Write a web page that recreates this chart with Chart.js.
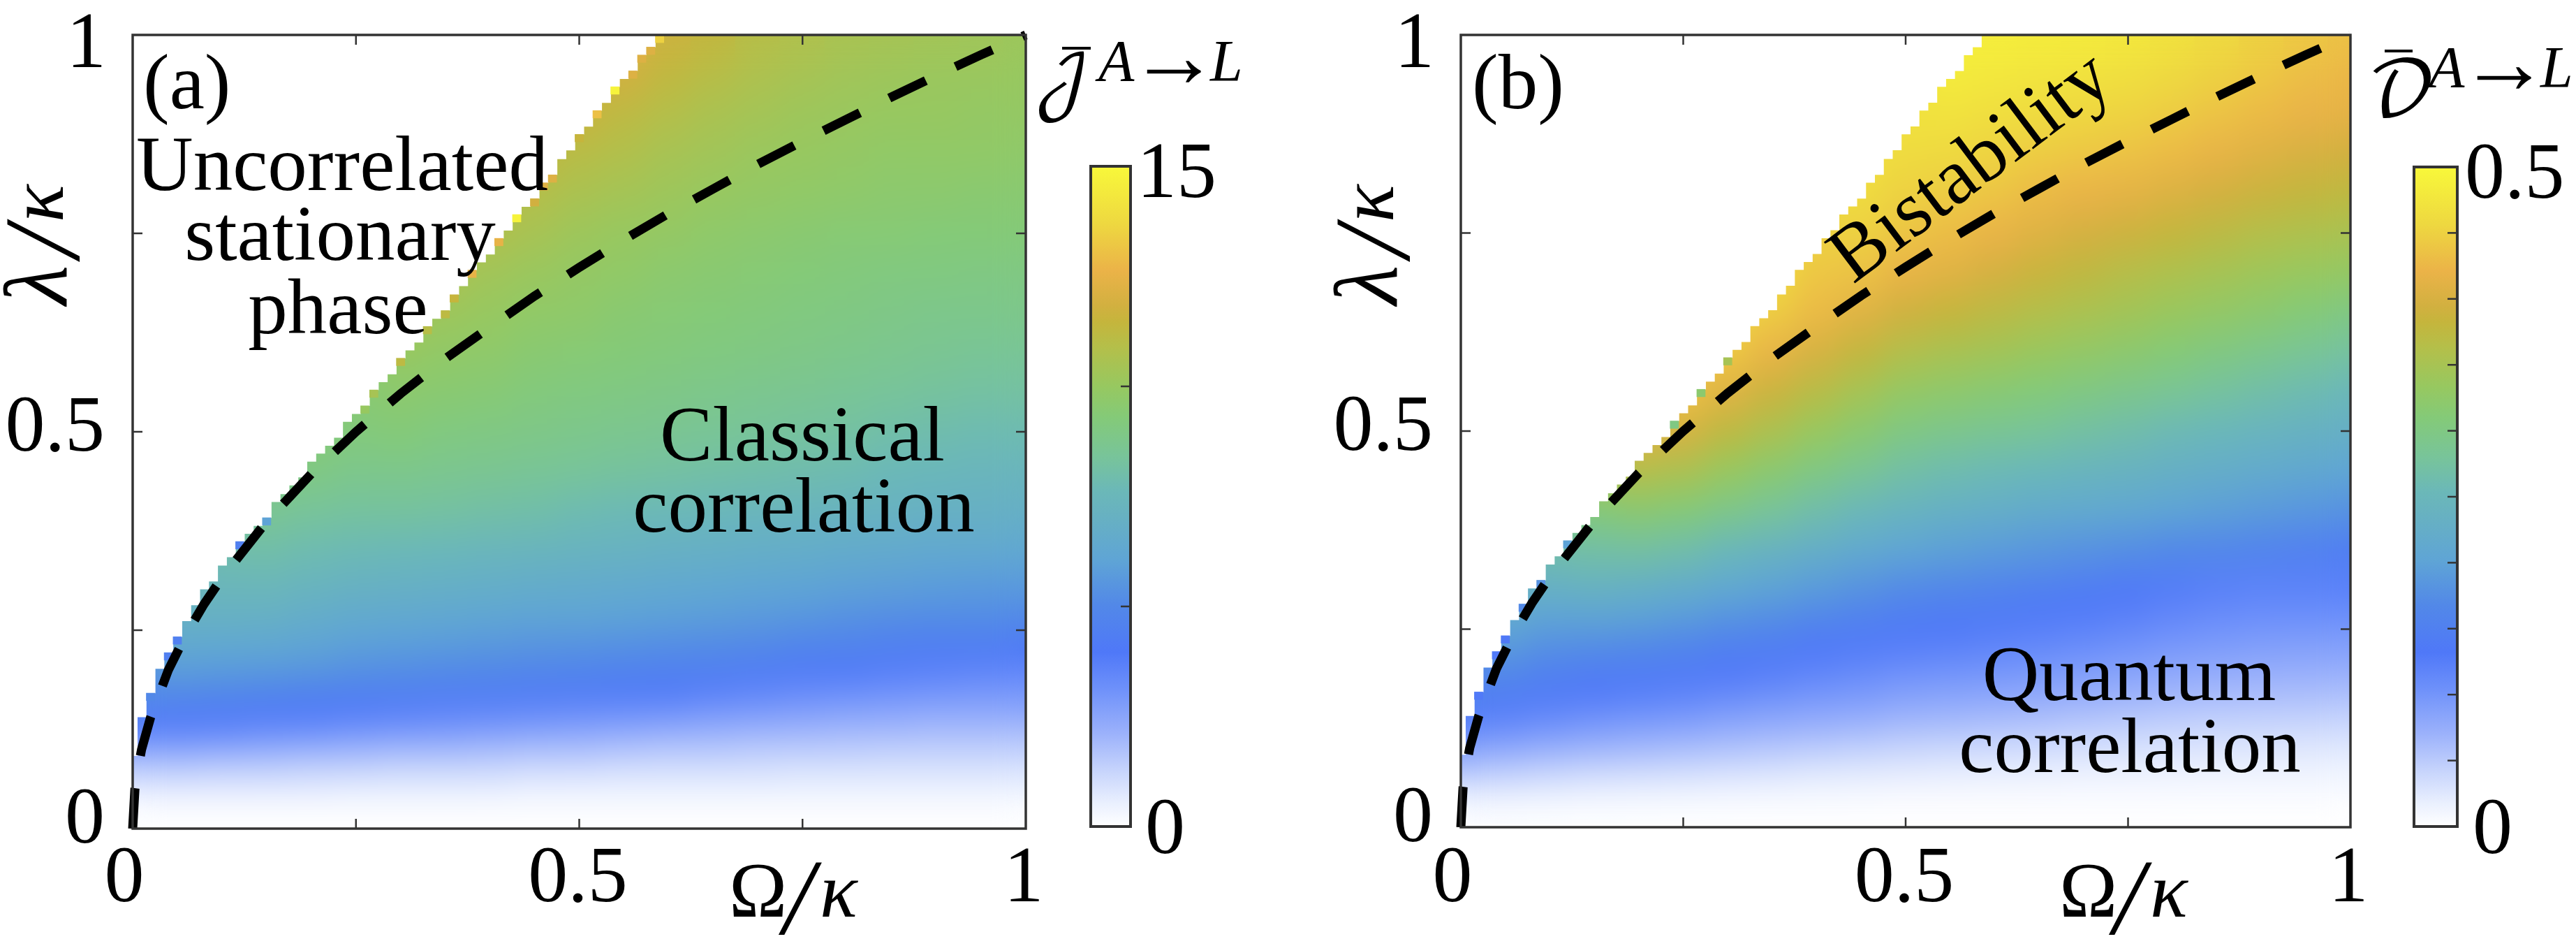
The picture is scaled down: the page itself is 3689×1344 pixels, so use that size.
<!DOCTYPE html>
<html>
<head>
<meta charset="utf-8">
<title>Phase diagrams</title>
<script src="https://cdn.jsdelivr.net/npm/chart.js@4"></script>
<style>
html, body { margin: 0; padding: 0; background: #fff; }
canvas { position: absolute; left: 0; top: 0; }
</style>
</head>
<body>
<canvas id="heatA" width="3689" height="1344"></canvas>
<canvas id="barA" width="3689" height="1344"></canvas>
<canvas id="heatB" width="3689" height="1344"></canvas>
<canvas id="barB" width="3689" height="1344"></canvas>
<script>
/* values */
var omegaColumns = [0, 0.05, 0.1, 0.15, 0.2, 0.25, 0.3, 0.35, 0.4, 0.45, 0.5, 0.55, 0.6, 0.65, 0.7, 0.75, 0.8, 0.85, 0.9, 0.95, 1];
var lambdaRows = [0, 0.025, 0.05, 0.075, 0.1, 0.125, 0.15, 0.175, 0.2, 0.225, 0.25, 0.275, 0.3, 0.35, 0.4, 0.45, 0.5, 0.55, 0.6, 0.65, 0.7, 0.75, 0.8, 0.85, 0.9, 0.95, 1];

// J in tenths, one list per omega column, bottom to top
var jColumns = [
    [0,1,7,15,25,37,44,53],
    [0,1,7,15,25,37,43,52,58,63,67,71,74],
    [0,1,7,14,24,36,42,51,57,62,67,71,74,79,85],
    [0,1,7,14,23,34,41,50,56,62,66,71,74,80,86,91],
    [0,1,7,13,22,33,40,48,55,60,64,68,72,78,84,90,94],
    [0,1,6,13,21,31,39,47,53,58,62,66,70,77,83,88,92,95],
    [0,1,6,12,20,30,38,46,52,57,61,65,69,76,83,88,93,96,100,105],
    [0,1,6,12,20,29,37,45,51,56,60,64,68,75,82,87,91,95,98,102,107],
    [0,1,6,12,19,28,36,44,50,55,59,63,67,74,81,86,90,94,97,100,103,108,112],
    [0,1,5,11,18,27,35,43,49,54,58,62,66,73,80,85,89,92,95,98,101,105,109,114],
    [0,1,5,11,18,26,34,42,48,53,58,62,65,72,78,84,88,91,94,97,99,102,106,110,116],
    [0,1,5,10,17,25,33,41,47,52,57,61,64,71,77,83,87,90,93,95,98,100,104,108,112,118,122],
    [0,1,5,10,16,24,32,40,46,51,56,60,63,70,76,82,86,89,92,94,96,99,102,105,109,113,117],
    [0,1,5,10,16,23,30,38,45,50,55,59,62,69,75,81,85,88,91,93,95,97,100,103,106,110,114],
    [0,1,5,10,15,22,29,36,43,49,54,58,61,68,74,80,84,87,90,92,94,96,99,101,104,107,110],
    [0,1,5,9,15,21,28,34,41,47,52,57,60,67,73,79,83,86,89,91,93,95,98,100,102,105,108],
    [0,1,5,9,15,20,27,33,40,46,51,55,59,66,72,78,82,85,88,90,92,94,97,99,101,103,106],
    [0,1,5,9,14,20,26,32,38,44,49,54,58,65,71,76,80,84,87,89,91,94,96,98,100,102,105],
    [0,1,5,9,14,19,25,31,37,43,48,53,57,64,70,75,79,83,86,88,91,93,96,98,100,101,104],
    [0,1,5,9,14,19,25,30,36,42,48,53,56,64,70,74,78,82,85,88,90,93,95,98,99,101,103],
    [0,1,5,9,14,19,25,30,35,41,47,52,56,63,69,74,78,82,85,88,90,93,95,97,99,100,102]
];

// D in thousandths, same layout
var dColumns = [
    [0,8,30,60,88,115,137,165],
    [0,7,28,53,82,107,128,150,170,187,205,220,235],
    [0,6,25,48,75,100,122,140,155,175,192,210,230,265,300],
    [0,5,22,44,70,93,115,132,150,170,192,212,235,270,310,355],
    [0,5,20,42,66,88,110,128,145,165,187,208,228,272,318,365,410],
    [0,4,19,40,62,84,105,124,140,158,178,200,220,265,310,355,400,435],
    [0,4,17,37,58,78,98,118,132,150,170,190,210,250,295,335,375,410,440,462],
    [0,3,15,34,54,74,92,112,127,143,162,182,200,238,280,318,355,388,420,445,462],
    [0,3,13,30,50,70,87,105,120,132,152,172,190,226,265,300,335,368,400,428,440,450,465],
    [0,3,12,28,46,66,84,100,114,128,144,162,180,215,252,285,318,348,380,410,435,450,460,468],
    [0,2,10,26,42,60,78,93,108,124,137,153,170,205,240,270,300,330,362,392,420,438,450,460,470],
    [0,2,10,24,40,58,75,90,105,120,132,148,163,198,232,262,292,322,352,382,410,430,445,458,470,482,488],
    [0,2,9,22,38,55,72,87,102,116,128,142,157,192,226,256,286,315,345,372,398,420,438,452,465,478,486],
    [0,2,9,21,36,52,69,84,98,112,124,137,150,186,220,250,280,308,336,362,386,408,428,445,460,474,484],
    [0,2,8,19,34,48,65,80,93,108,119,131,143,180,215,244,272,300,328,354,376,398,420,440,456,470,482],
    [0,2,8,18,32,45,61,75,88,102,114,126,135,175,210,238,265,292,320,345,365,390,415,435,452,466,478],
    [0,2,8,17,30,42,57,70,83,96,108,118,128,168,203,231,257,284,311,336,357,381,405,428,445,458,470],
    [0,1,8,16,28,40,54,67,80,92,103,113,123,162,197,225,250,276,302,328,349,372,396,418,436,450,460],
    [0,1,8,16,27,39,52,65,77,89,100,110,120,156,191,218,243,268,293,320,341,363,387,408,428,441,450],
    [0,1,8,15,26,38,51,64,76,88,99,110,120,150,185,212,236,260,284,310,335,357,380,400,420,432,442],
    [0,1,8,15,25,37,50,63,75,87,99,110,121,145,180,205,230,252,275,300,330,352,375,395,415,425,435]
];

// top of the coloured region for omega = 0.00, 0.01, 0.02 ...
var edgeTop = [0.092,0.141,0.171,0.202,0.222,0.242,0.262,0.282,0.302,0.312,0.332,0.3425,0.362,0.372,0.382,0.392,0.412,0.422,0.433,0.443,
    0.463,0.473,0.483,0.493,0.513,0.523,0.533,0.553,0.563,0.573,0.593,0.603,0.613,0.633,0.643,0.653,0.673,0.684,0.704,0.714,
    0.724,0.744,0.754,0.774,0.784,0.794,0.814,0.824,0.844,0.855,0.875,0.885,0.905,0.915,0.935,0.945,0.955,0.975,0.985,1];

// single odd cells along that edge
var jEdgeColumns = [2,4,5,12,15,26,27,30,33,35,36,38,41,43,45,46,47,50,52,54,56,57,58,59];
var jEdgeValues = [50,45,45,45,60,100,105,112,110,112,115,125,125,148,118,122,122,115,130,148,122,122,122,135];
var dEdgeColumns = [2,4,5,7,9,12,24,27,30];
var dEdgeValues = [130,130,135,170,180,200,300,320,350];

// dashed curve
var dashOmega = [0,0.0025,0.005,0.01,0.02,0.04,0.06,0.08,0.1,0.15,0.2,0.25,0.3,0.35,0.4,0.45,0.5,0.55,0.6,0.65,0.7,0.75,0.8,0.85,0.9,0.95,1];
var dashLambda = [0,0.05,0.07,0.1,0.14,0.2,0.245,0.283,0.316,0.387,0.447,0.5,0.548,0.592,0.632,0.671,0.707,0.742,0.775,0.806,0.837,0.866,0.894,0.922,0.949,0.975,1];

var axisTickLabels = ["0", "", "0.5", "", "1"];
var jBarTickLabels = ["0", "", "", "15"];
var dBarTickLabels = ["0", "", "", "", "", "", "", "", "", "", "0.5"];

/* colour scale */
var colorStops = [0, 0.035, 0.088, 0.14, 0.21, 0.264, 0.335, 0.405, 0.476, 0.508, 0.56, 0.62, 0.667, 0.726, 0.765, 0.789, 0.842, 0.913, 1];
var colorValues = ["#ffffff", "#eaf0fe", "#c4d2fc", "#9cb2fb", "#6d90fa", "#4f78f8", "#5288e8", "#5fa5d5", "#68b2c0", "#6bb8b8", "#78c49a", "#84ca78", "#97c860", "#b4bf4a", "#c5b53c", "#d2b040", "#ebb348", "#eed840", "#f8f83a"];

var serif = '"Liberation Serif", serif';
var numFont = "114px " + serif;
var wordFont = "113px " + serif;
var supFont = "italic 84px " + serif;
var mathFont = "italic 112px " + serif;
var slashFont = "italic 155px " + serif;
var scriptFont = '100px "DejaVu Math TeX Gyre", "Noto Sans Math", ' + serif;

function hexRgb(hex) {
    return [parseInt(hex.substr(1, 2), 16), parseInt(hex.substr(3, 2), 16), parseInt(hex.substr(5, 2), 16)];
}

function colorAt(f) {
    f = Math.max(0, Math.min(1, f));
    var k = 1;
    while (k < colorStops.length - 1 && colorStops[k] < f) k++;
    var t = (f - colorStops[k - 1]) / (colorStops[k] - colorStops[k - 1]);
    var a = hexRgb(colorValues[k - 1]), b = hexRgb(colorValues[k]);
    return "rgb(" + Math.round(a[0] + (b[0] - a[0]) * t) + "," + Math.round(a[1] + (b[1] - a[1]) * t) + "," + Math.round(a[2] + (b[2] - a[2]) * t) + ")";
}

// the scale has no pixels yet on the first pass, before layout
function verticalGradient(ctx, top) {
    var y = ctx.chart.scales.y;
    if (!y) return null;
    var y0 = y.getPixelForValue(0), y1 = y.getPixelForValue(top);
    if (!isFinite(y0) || !isFinite(y1)) return null;
    return ctx.chart.ctx.createLinearGradient(0, y0, 0, y1);
}

function columnFill(columns, vmax) {
    return function (ctx) {
        if (ctx.dataIndex === undefined) return "transparent";
        var g = verticalGradient(ctx, 1);
        if (!g) return "transparent";
        columns[ctx.dataIndex].forEach(function (v, k) {
            g.addColorStop(lambdaRows[k], colorAt(v / vmax));
        });
        return g;
    };
}

function drawText(c, item) {
    c.save();
    c.font = item.font;
    c.fillStyle = "#000";
    c.textAlign = item.align || "left";
    c.textBaseline = item.base || "alphabetic";
    c.translate(item.x, item.y);
    if (item.rot) c.rotate(item.rot * Math.PI / 180);
    c.fillText(item.t, 0, 0);
    c.restore();
}

function heatPlugin(texts, xNudge, yNudge, overbar) {
    return {
        id: "heatFrame",
        // soften the joins between the colour columns, before the edge and curve go on top
        afterDatasetDraw: function (chart, args) {
            if (args.index !== 0) return;
            var c = chart.ctx, a = chart.chartArea, w = a.right - a.left, h = a.bottom - a.top;
            c.save();
            c.beginPath();
            c.rect(a.left, a.top, w, h);
            c.clip();
            c.filter = "blur(20px)";
            c.drawImage(c.canvas, a.left, a.top, w, h, a.left, a.top, w, h);
            c.restore();
        },
        afterDatasetsDraw: function (chart) {
            var c = chart.ctx, a = chart.chartArea, sx = chart.scales.x, sy = chart.scales.y;
            c.save();
            c.strokeStyle = "#333";
            c.lineWidth = 2.5;
            sx.ticks.forEach(function (t, i) {
                var p = sx.getPixelForTick(i);
                if (i === 0 || i === sx.ticks.length - 1) return;
                c.beginPath();
                c.moveTo(p, a.top); c.lineTo(p, a.top + 14);
                c.moveTo(p, a.bottom); c.lineTo(p, a.bottom - 14);
                c.stroke();
            });
            sy.ticks.forEach(function (t, i) {
                var p = sy.getPixelForTick(i);
                if (i === 0 || i === sy.ticks.length - 1) return;
                c.beginPath();
                c.moveTo(a.left, p); c.lineTo(a.left + 14, p);
                c.moveTo(a.right, p); c.lineTo(a.right - 14, p);
                c.stroke();
            });
            c.lineWidth = 3.5;
            c.strokeRect(a.left, a.top, a.right - a.left, a.bottom - a.top);
            c.restore();
            sx.ticks.forEach(function (t, i) {
                if (!t.label) return;
                drawText(c, { t: t.label, font: numFont, align: "center", x: sx.getPixelForTick(i) + xNudge[i], y: 1290 });
            });
            sy.ticks.forEach(function (t, i) {
                if (!t.label) return;
                drawText(c, { t: t.label, font: numFont, align: "right", x: a.left + yNudge[i][0], y: sy.getPixelForTick(i) + yNudge[i][1] });
            });
            texts.forEach(function (item) { drawText(c, item); });
            c.save();
            c.strokeStyle = "#000";
            c.lineWidth = 4;
            c.beginPath();
            c.moveTo(overbar[0], overbar[2]);
            c.lineTo(overbar[1], overbar[2]);
            c.stroke();
            c.restore();
        }
    };
}

function barPlugin(labelX, nudge) {
    return {
        id: "barFrame",
        afterDatasetsDraw: function (chart) {
            var c = chart.ctx, a = chart.chartArea, sy = chart.scales.y;
            c.save();
            c.strokeStyle = "#333";
            c.lineWidth = 2.5;
            sy.ticks.forEach(function (t, i) {
                if (i === 0 || i === sy.ticks.length - 1) return;
                var p = sy.getPixelForTick(i);
                c.beginPath();
                c.moveTo(a.right, p); c.lineTo(a.right - 14, p);
                c.stroke();
            });
            c.lineWidth = 4;
            c.strokeRect(a.left, a.top, a.right - a.left, a.bottom - a.top);
            c.restore();
            sy.ticks.forEach(function (t, i) {
                if (!t.label) return;
                drawText(c, { t: t.label, font: numFont, align: "left", x: i === 0 ? labelX[0] : labelX[1], y: sy.getPixelForTick(i) + (i === 0 ? nudge[0] : nudge[1]) });
            });
        }
    };
}

function makeHeat(id, box, columns, vmax, edgeCols, edgeVals, plugin) {
    var heatData = omegaColumns.map(function (w) { return { x: w, y: [0, 1] }; });
    var maskData = [];
    edgeTop.forEach(function (top, i) {
        if (top < 1) maskData.push({ x: i / 100, y: [top, 1] });
    });
    var edgeData = edgeCols.map(function (col) {
        return { x: col / 100, y: [edgeTop[col] - 0.01, edgeTop[col]] };
    });
    var dashData = dashOmega.map(function (w, i) { return { x: w, y: dashLambda[i] }; });
    return new Chart(document.getElementById(id), {
        type: "bar",
        data: {
            datasets: [
                { data: heatData, backgroundColor: columnFill(columns, vmax), grouped: false, barPercentage: 5, categoryPercentage: 1, inflateAmount: 0.6, order: 4 },
                { data: maskData, backgroundColor: "#ffffff", grouped: false, barPercentage: 1, categoryPercentage: 1, inflateAmount: 0.6, order: 3 },
                { data: edgeData, backgroundColor: edgeVals.map(function (v) { return colorAt(v / vmax); }), grouped: false, barPercentage: 1, categoryPercentage: 1, inflateAmount: 0, order: 2 },
                { type: "line", data: dashData, borderColor: "#000", borderWidth: 13, borderDash: [58, 47], borderCapStyle: "butt", pointRadius: 0, tension: 0, fill: false, clip: false, order: 1 }
            ]
        },
        options: {
            responsive: false,
            devicePixelRatio: 1,
            animation: false,
            layout: { padding: { left: box.left, top: box.top, right: 3689 - box.right, bottom: 1344 - box.bottom } },
            plugins: { legend: { display: false }, tooltip: { enabled: false } },
            scales: {
                x: { type: "linear", min: 0, max: 1, display: false, offset: false, ticks: { stepSize: 0.25, callback: function (v, i) { return axisTickLabels[i]; } } },
                y: { type: "linear", min: 0, max: 1, display: false, ticks: { stepSize: 0.25, callback: function (v, i) { return axisTickLabels[i]; } } }
            }
        },
        plugins: [plugin]
    });
}

function makeBar(id, box, top, step, labels, plugin) {
    return new Chart(document.getElementById(id), {
        type: "bar",
        data: {
            labels: ["scale"],
            datasets: [{
                data: [[0, top]],
                barPercentage: 1,
                categoryPercentage: 1,
                backgroundColor: function (ctx) {
                    if (ctx.dataIndex === undefined) return "transparent";
                    var g = verticalGradient(ctx, top);
                    if (!g) return "transparent";
                    colorStops.forEach(function (s, k) { g.addColorStop(s, colorValues[k]); });
                    return g;
                }
            }]
        },
        options: {
            responsive: false,
            devicePixelRatio: 1,
            animation: false,
            layout: { padding: { left: box.left, top: box.top, right: 3689 - box.right, bottom: 1344 - box.bottom } },
            plugins: { legend: { display: false }, tooltip: { enabled: false } },
            scales: {
                x: { display: false },
                y: { min: 0, max: top, display: false, ticks: { stepSize: step, callback: function (v, i) { return labels[i]; } } }
            }
        },
        plugins: [plugin]
    });
}

// axis titles and the superscript of the colour bar title, dx moves them to panel b
function mathTexts(dx) {
    var rise = dx ? 9 : 0;
    return [
        { t: "Ω", font: "112px " + serif, x: 1044 + dx, y: 1312 },
        { t: "/", font: slashFont, x: 1122 + dx, y: 1336 },
        { t: "κ", font: mathFont, x: 1174 + dx, y: 1312 },
        { t: "λ", font: "italic 130px " + serif, rot: -90, x: 96 + dx, y: 436 },
        { t: "/", font: slashFont, rot: -90, x: 112 + dx, y: 368 },
        { t: "κ", font: mathFont, rot: -90, x: 90 + dx, y: 318 },
        { t: "A", font: supFont, x: 1573 + dx, y: 116 + rise },
        { t: "→", font: "130px " + serif, x: 1616 + dx, y: 124 + rise },
        { t: "L", font: supFont, x: 1733 + dx, y: 116 + rise }
    ];
}

var textsA = mathTexts(0).concat([
    { t: "(a)", font: wordFont, x: 205, y: 155 },
    { t: "Uncorrelated", font: wordFont, align: "center", x: 490, y: 272 },
    { t: "stationary", font: wordFont, align: "center", x: 487, y: 372 },
    { t: "phase", font: wordFont, align: "center", x: 484, y: 477 },
    { t: "Classical", font: wordFont, align: "center", x: 1149, y: 659 },
    { t: "correlation", font: wordFont, align: "center", x: 1151, y: 761 },
    { t: "𝒥", font: scriptFont, x: 1480, y: 150 }
]);
var textsB = mathTexts(1905).concat([
    { t: "(b)", font: wordFont, x: 2108, y: 155 },
    { t: "Bistability", font: "113px " + serif, align: "center", base: "middle", rot: -37, x: 2824, y: 242 },
    { t: "Quantum", font: wordFont, align: "center", x: 3049, y: 1002 },
    { t: "correlation", font: wordFont, align: "center", x: 3050, y: 1105 },
    { t: "𝒟", font: '108px "DejaVu Math TeX Gyre", "Noto Sans Math", ' + serif, x: 3390, y: 165 }
]);

var xNudge = [-12, 0, -2, 0, -3];
var yNudge = [[-40, 20], [0, 0], [-40, 27], [0, 0], [-38, 46]];

makeHeat("heatA", { left: 190, top: 50, right: 1469, bottom: 1186 }, jColumns, 150, jEdgeColumns, jEdgeValues, heatPlugin(textsA, xNudge, yNudge, [1521, 1562, 69]));
makeBar("barA", { left: 1562, top: 238, right: 1619, bottom: 1183 }, 15, 5, jBarTickLabels, barPlugin([1640, 1628], [38, 44]));
makeHeat("heatB", { left: 2092, top: 50, right: 3366, bottom: 1184 }, dColumns, 500, dEdgeColumns, dEdgeValues, heatPlugin(textsB, xNudge, yNudge, [3415, 3455, 73]));
makeBar("barB", { left: 3457, top: 239, right: 3519, bottom: 1183 }, 0.5, 0.05, dBarTickLabels, barPlugin([3541, 3530], [38, 44]));
</script>
</body>
</html>
